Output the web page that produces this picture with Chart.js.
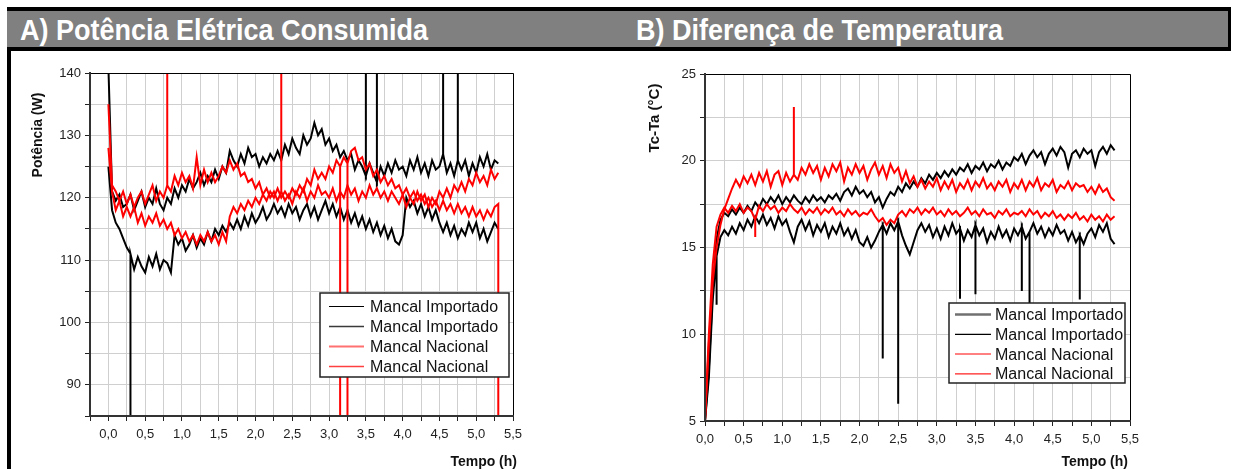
<!DOCTYPE html>
<html>
<head>
<meta charset="utf-8">
<script src="https://cdn.jsdelivr.net/npm/chart.js@4.4.0/dist/chart.umd.min.js"></script>
<style>
  body { margin: 0; width: 1234px; height: 469px; overflow: hidden; position: relative; background: #fff; font-family: "Liberation Sans", Arial, sans-serif; }
  canvas { position: absolute; top: 0; }
  #chartA { left: 0; }
  #chartB { left: 617px; }
  #bordaEsq { position: absolute; left: 7px; top: 7px; width: 4px; height: 462px; background: #000; }
  #cabecalho { position: absolute; left: 7px; top: 7px; width: 1221px; height: 36px; background: #808080;
               border-top: 4px solid #000; border-bottom: 4px solid #000; border-right: 3px solid #000; }
  .titulo { position: absolute; top: 15px; color: #fff; font: bold 30px/30px "Liberation Sans", Arial, sans-serif;
            transform: scaleX(0.9); transform-origin: 0 0; white-space: nowrap; }
</style>
</head>
<body>
<canvas id="chartA" width="617" height="469"></canvas>
<canvas id="chartB" width="617" height="469"></canvas>
<div id="bordaEsq"></div>
<div id="cabecalho"></div>
<div class="titulo" style="left:20px">A) Potência Elétrica Consumida</div>
<div class="titulo" style="left:636px">B) Diferença de Temperatura</div>
<script>
// tempo de ensaio (h)
const tempo = [
  0, 0.05, 0.1, 0.15, 0.2, 0.25, 0.3, 0.35, 0.4, 0.45, 0.5, 0.55, 0.6, 0.65, 0.7, 0.75, 0.8, 0.85, 0.9, 0.95,
  1, 1.05, 1.1, 1.15, 1.2, 1.25, 1.3, 1.35, 1.4, 1.45, 1.5, 1.55, 1.6, 1.65, 1.7, 1.75, 1.8, 1.85, 1.9, 1.95,
  2, 2.05, 2.1, 2.15, 2.2, 2.25, 2.3, 2.35, 2.4, 2.45, 2.5, 2.55, 2.6, 2.65, 2.7, 2.75, 2.8, 2.85, 2.9, 2.95,
  3, 3.05, 3.1, 3.15, 3.2, 3.25, 3.3, 3.35, 3.4, 3.45, 3.5, 3.55, 3.6, 3.65, 3.7, 3.75, 3.8, 3.85, 3.9, 3.95,
  4, 4.05, 4.1, 4.15, 4.2, 4.25, 4.3, 4.35, 4.4, 4.45, 4.5, 4.55, 4.6, 4.65, 4.7, 4.75, 4.8, 4.85, 4.9, 4.95,
  5, 5.05, 5.1, 5.15, 5.2, 5.25, 5.3
];

// A) potencia (W)
const importadoA1 = [
  141, 121, 119.5, 120.5, 118.5, 119, 120.5, 118, 119.5, 121, 118.5, 120, 119, 121.5, 119, 118, 120, 119, 121.5, 120,
  122, 121, 123, 121.5, 122.5, 124, 122, 123.5, 122.5, 124.5, 123, 125, 124, 127.5, 126, 125, 127, 125.5, 128, 126.5,
  127, 125, 126.5, 125.5, 127, 126, 127.5, 126, 128.5, 127, 129.5, 128, 127, 130, 128.5, 129.5, 132, 130, 131, 128.5,
  129.5, 127.5, 128.5, 126.5, 127.5, 126, 127, 124.5, 126, 125, 123.5, 125.5, 124, 122.5, 125, 123.5, 125.5, 124, 126, 124.5,
  125, 123.5, 126, 124.5, 126.5, 124, 125.5, 123.5, 126, 124.5, 125, 127, 124, 125.5, 123.5, 126, 124.5, 126, 123.5, 125.5,
  124, 126.5, 125, 127, 124.5, 126, 125.5
];
const importadoA2 = [
  125, 118, 116, 115, 113.5, 112, 111, 108.5, 110.5, 109, 108, 110.5, 109, 111, 108.5, 110, 109.5, 108, 114, 112.5,
  113.5, 111.5, 112.5, 114, 112, 113.5, 112.5, 114.5, 113, 115, 114, 115.5, 114.5, 116, 115, 116.5, 115, 117, 115.5, 117.5,
  116, 117, 118.5, 116.5, 117.5, 119, 117.5, 118.5, 117, 119, 117.5, 118.5, 116.5, 118, 119, 117, 118.5, 116.5, 118, 119.5,
  117.5, 119, 117, 118.5, 116.5, 118, 116, 117.5, 115.5, 117, 115, 116.5, 114.5, 116, 114, 115.5, 113.5, 115, 113, 112.5,
  114, 120, 118.5, 119.5, 117.5, 119, 117, 118.5, 116.5, 118, 116, 114.5, 116, 114, 115.5, 113.5, 115, 114, 116, 114.5,
  116, 113.5, 115, 113, 114.5, 116, 115
];
const nacionalA1 = [
  135, 122, 121, 119.5, 121, 119, 120.5, 118.5, 120, 121, 119, 120.5, 122, 119.5, 121, 120, 122, 121, 123.5, 122,
  124, 122.5, 123.5, 121.5, 126.5, 122, 124.5, 122.5, 124, 122.5, 123.5, 125, 124, 126, 124.5, 125.5, 123.5, 124, 122.5, 123,
  121.5, 122.5, 120.5, 121.5, 120, 121, 119.5, 121, 119.5, 120.5, 119, 121, 120, 121.5, 119.5, 121, 120, 122, 120.5, 121,
  120, 121.5, 119.5, 121, 120, 122, 120.5, 121.5, 119.5, 121, 120, 122, 120.5, 121.5, 120, 121, 119.5, 121, 120, 119,
  120.5, 118.5, 120, 119, 121, 119.5, 120.5, 118.5, 120, 119, 121, 120, 121.5, 120, 122, 121, 122.5, 121, 123, 122,
  124, 122.5, 123.5, 122, 124.5, 123, 124
];
const nacionalA2 = [
  128, 121, 118, 119.5, 117, 118.5, 117, 118.5, 116, 117.5, 115.5, 117, 116, 117.5, 115.5, 116.5, 115, 116, 114, 115,
  113.5, 114.5, 113, 114, 112.5, 114, 113, 114.5, 113, 114, 112.5, 114.5, 113, 117, 118.5, 117.5, 119, 118, 119.5, 118.5,
  120, 119, 120.5, 119.5, 121, 120, 121.5, 120, 121, 120, 121.5, 120.5, 122, 121, 123, 122, 124.5, 123, 124, 123,
  125, 124, 126, 125, 126.5, 125.5, 127.5, 128, 126, 126.5, 124.5, 125.5, 123.5, 124.5, 122.5, 123.5, 122, 123, 121.5, 122,
  120.5, 121.5, 120, 121, 119.5, 120.5, 119, 120, 118.5, 119.5, 118, 119.5, 118, 119, 117.5, 119, 117.5, 118.5, 117, 118.5,
  117, 118, 116.5, 118, 117, 118.5, 119
];
// picos isolados [tempo, valor]
const picosImportadoA1 = [[3.5, 160], [3.65, 160], [4.55, 160], [4.75, 160]];
const picosImportadoA2 = [[0.3, 60]];
const picosNacionalA1 = [[0.8, 160], [2.35, 160]];
const picosNacionalA2 = [[3.15, 60], [3.25, 60], [5.3, 60]];

// B) Tc-Ta (C)
const importadoB1 = [
  5, 8, 12.5, 15.5, 16.6, 17.0, 16.8, 17.2, 16.9, 17.3, 17.0, 17.4, 17.1, 17.6, 17.3, 17.8, 17.5, 17.9, 17.6, 18.0,
  17.5, 17.9, 17.6, 18.0, 17.7, 17.5, 17.9, 17.6, 18.0, 17.7, 17.9, 17.6, 18.0, 17.8, 18.1, 17.7, 18.2, 18.4, 18.0, 18.5,
  18.1, 18.3, 17.9, 18.2, 17.6, 17.9, 17.3, 17.8, 18.2, 18.0, 18.5, 18.2, 18.7, 18.4, 18.8, 18.5, 19.0, 18.7, 19.2, 18.9,
  19.3, 19.0, 19.4, 19.1, 19.5, 19.2, 19.6, 19.4, 19.8, 19.3, 19.7, 19.5, 19.9, 19.4, 19.8, 19.6, 20.0, 19.5, 19.9, 19.7,
  20.2, 20.0, 20.4, 19.8, 20.3, 20.6, 20.2, 20.5, 19.8, 20.4, 20.7, 20.3, 20.8, 20.5, 19.6, 20.4, 20.6, 20.2, 20.7, 20.4,
  20.6, 19.7, 20.5, 20.8, 20.4, 20.9, 20.6
];
const importadoB2 = [
  5, 7.5, 12, 14.5, 15.6, 16.0, 15.7, 16.2, 15.8, 16.4, 16.0, 16.6, 16.2, 16.8, 16.4, 16.9, 16.3, 16.7, 16.1, 16.8,
  16.3, 16.6, 15.9, 15.3, 16.2, 16.6, 16.0, 16.5, 15.7, 16.3, 15.9, 16.4, 15.6, 16.2, 15.8, 16.4, 15.7, 16.1, 15.5, 16.0,
  15.3, 15.1, 15.6, 15.0, 15.4, 15.9, 16.3, 15.8, 16.4, 16.0, 16.5, 15.7, 15.1, 14.6, 15.3, 16.0, 16.4, 15.9, 16.3, 15.6,
  16.1, 15.5, 16.2, 15.7, 16.4, 15.8, 16.1, 15.4, 16.0, 15.6, 16.3, 15.7, 16.1, 15.3, 15.9, 15.5, 16.2, 15.6, 16.0, 15.4,
  16.1, 15.7, 16.2, 15.5, 15.9, 16.4, 15.8, 16.2, 15.6, 16.1, 15.7, 16.3, 15.8, 16.0, 15.4, 15.9, 15.3, 15.7, 15.2, 15.8,
  16.1, 15.6, 16.3, 15.9, 16.4, 15.5, 15.2
];
const nacionalB1 = [
  5, 9.5, 13, 15, 16.3, 17.2, 17.8, 18.4, 18.9, 18.5, 19.1, 18.7, 19.2, 18.6, 19.3, 18.8, 19.4, 18.5, 19.2, 19.4,
  18.6, 19.3, 18.8, 19.2, 18.9, 19.6, 19.2, 19.8, 19.3, 19.7, 18.9, 19.6, 19.1, 19.8, 19.4, 19.9, 18.8, 19.6, 19.2, 19.8,
  19.3, 19.7, 18.9, 19.5, 19.9, 19.2, 19.7, 19.0, 19.8, 19.3, 19.6, 18.8, 19.4, 18.7, 19.1, 18.5, 18.9, 18.4, 18.8, 18.5,
  19.0, 18.3, 18.8, 18.4, 18.9, 18.2, 18.7, 18.4, 18.9, 18.3, 18.8, 18.5, 19.0, 18.4, 18.7, 18.3, 18.8, 18.5, 18.9, 18.2,
  18.7, 18.4, 18.9, 18.3, 18.8, 18.5, 19.0, 18.3, 18.7, 18.5, 18.9, 18.2, 18.6, 18.4, 18.8, 18.3, 18.7, 18.5, 18.6, 18.2,
  18.5, 18.1, 18.6, 18.2, 18.4, 17.9, 17.7
];
const nacionalB2 = [
  5, 10, 14, 16.2, 16.9, 17.3, 17.0, 17.4, 17.1, 17.5, 17.0, 17.3, 17.1, 16.6, 17.4, 17.1, 17.5, 17.2, 17.4, 17.0,
  17.3, 17.1, 17.5, 17.2, 17.0, 17.3, 16.9, 17.2, 17.0, 17.3, 16.9, 17.2, 17.0, 17.3, 16.9, 17.1, 16.8, 17.2, 16.9, 17.1,
  16.8, 17.0, 16.9, 17.2, 16.8, 16.5, 16.7, 16.3, 16.6, 16.4, 16.9, 17.1, 16.8, 17.2, 17.0, 17.3, 16.9, 17.2, 17.0, 17.3,
  16.9, 17.1, 16.8, 17.2, 16.9, 17.1, 16.8, 17.0, 17.3, 16.9, 17.1, 16.8, 17.2, 16.9, 17.0, 16.7, 17.1, 16.9, 17.2, 16.8,
  17.0, 16.9, 17.1, 16.8, 17.2, 16.9, 17.1, 16.7, 17.0, 16.8, 17.1, 16.7, 16.9, 16.6, 16.9, 16.7, 17.0, 16.6, 16.8, 16.5,
  16.9, 16.6, 16.8, 16.5, 16.9, 16.6, 16.8
];
const picosImportadoB1 = [];
const picosImportadoB2 = [[0.15, 11.7], [2.3, 8.6], [2.5, 6.0], [3.3, 12.05], [3.5, 12.3], [4.1, 12.5], [4.2, 11.8], [4.85, 12.0]];
const picosNacionalB1 = [[1.15, 23.1]];
const picosNacionalB2 = [[0.65, 15.6]];

const rotulos = ['Mancal Importado', 'Mancal Importado', 'Mancal Nacional', 'Mancal Nacional'];

Chart.defaults.font.family = '"Liberation Sans", Arial, sans-serif';
Chart.defaults.color = '#222';

// junta a serie com os picos (linha vertical no instante do pico)
function montarPontos(valores, picos) {
    const pontos = [];
    tempo.forEach((t, i) => {
        pontos.push({ x: t, y: valores[i] });
        picos.filter(p => Math.abs(p[0] - t) < 1e-9).forEach(p => {
            pontos.push({ x: t, y: p[1] });
            pontos.push({ x: t, y: valores[i] });
        });
    });
    return pontos;
}

function virgula(v, casas) {
    return v.toFixed(casas).replace('.', ',');
}

const molduraPlugin = {
    id: 'moldura',
    afterDatasetsDraw(chart, args, opts) {
        const { ctx, chartArea: a } = chart;
        ctx.save();

        // borda de cima e da direita
        ctx.strokeStyle = '#000';
        ctx.lineWidth = 1;
        ctx.beginPath();
        ctx.moveTo(a.left, a.top + 0.5);
        ctx.lineTo(a.right + 0.5, a.top + 0.5);
        ctx.lineTo(a.right + 0.5, a.bottom);
        ctx.stroke();

        // legenda com caixa
        const lg = opts.legenda;
        const bx = a.right - lg.margemDir - lg.largura;
        const by = a.bottom - lg.margemInf - lg.altura;
        ctx.fillStyle = '#fff';
        ctx.fillRect(bx, by, lg.largura, lg.altura);
        ctx.strokeStyle = '#222';
        ctx.lineWidth = 1.5;
        ctx.strokeRect(bx, by, lg.largura, lg.altura);
        ctx.font = '16px "Liberation Sans", Arial, sans-serif';
        ctx.textBaseline = 'middle';
        ctx.textAlign = 'left';
        rotulos.forEach((txt, i) => {
            const y = by + lg.y0 + i * lg.passo;
            ctx.strokeStyle = lg.cores[i];
            ctx.lineWidth = lg.larguras[i];
            ctx.beginPath();
            ctx.moveTo(bx + lg.x0Linha, y);
            ctx.lineTo(bx + lg.x0Linha + lg.compLinha, y);
            ctx.stroke();
            ctx.fillStyle = '#111';
            ctx.fillText(txt, bx + lg.x0Texto, y + 1);
        });

        // titulos dos eixos
        ctx.fillStyle = '#111';
        ctx.font = 'bold ' + opts.fonteY + 'px "Liberation Sans", Arial, sans-serif';
        ctx.save();
        ctx.translate(opts.tituloY[0], opts.tituloY[1]);
        ctx.rotate(-Math.PI / 2);
        ctx.textAlign = 'center';
        ctx.textBaseline = 'middle';
        ctx.fillText(opts.textoY, 0, 0);
        ctx.restore();
        ctx.font = 'bold 14px "Liberation Sans", Arial, sans-serif';
        ctx.textAlign = 'right';
        ctx.textBaseline = 'alphabetic';
        ctx.fillText('Tempo (h)', opts.tituloX[0], opts.tituloX[1]);

        ctx.restore();
    }
};

function criarGrafico(id, cfg) {
    const series = [
        { valores: cfg.nac2, picos: cfg.picosNac2, cor: '#ff0000', rot: rotulos[3] },
        { valores: cfg.nac1, picos: cfg.picosNac1, cor: '#ff0000', rot: rotulos[2] },
        { valores: cfg.imp2, picos: cfg.picosImp2, cor: '#000000', rot: rotulos[1] },
        { valores: cfg.imp1, picos: cfg.picosImp1, cor: '#000000', rot: rotulos[0] }
    ];
    return new Chart(document.getElementById(id), {
        type: 'line',
        data: {
            datasets: series.map(s => ({
                label: s.rot,
                data: montarPontos(s.valores, s.picos),
                borderColor: s.cor,
                borderWidth: 2,
                pointRadius: 0,
                tension: 0,
                fill: false
            }))
        },
        options: {
            responsive: false,
            animation: false,
            events: [],
            layout: { padding: { top: cfg.topo, right: cfg.direita, left: 0, bottom: 0 } },
            plugins: {
                legend: { display: false },
                tooltip: { enabled: false },
                moldura: cfg.moldura
            },
            scales: {
                x: {
                    type: 'linear',
                    min: cfg.xMin,
                    max: 5.5,
                    afterFit: (s) => { s.height = cfg.alturaX; },
                    ticks: {
                        stepSize: 0.25,
                        autoSkip: false,
                        maxRotation: 0,
                        padding: 6,
                        font: { size: 13 },
                        callback: (v) => (v >= 0 && Math.abs(v * 2 - Math.round(v * 2)) < 1e-6) ? virgula(v, 1) : ''
                    },
                    grid: { color: '#cfcfcf', lineWidth: 1, tickLength: 5, tickColor: '#222' },
                    border: { color: '#333', width: 2, z: 1 }
                },
                y: {
                    min: cfg.yMin,
                    max: cfg.yMax,
                    afterFit: (s) => { s.width = cfg.larguraY; },
                    ticks: {
                        stepSize: cfg.yPasso,
                        autoSkip: false,
                        padding: 4,
                        font: { size: 13 },
                        callback: (v) => (v % cfg.yRotulo === 0) ? String(v) : ''
                    },
                    grid: { color: '#cfcfcf', lineWidth: 1, tickLength: 5, tickColor: '#222' },
                    border: { color: '#333', width: 2, z: 1 }
                }
            }
        },
        plugins: [molduraPlugin]
    });
}

criarGrafico('chartA', {
    imp1: importadoA1, imp2: importadoA2, nac1: nacionalA1, nac2: nacionalA2,
    picosImp1: picosImportadoA1, picosImp2: picosImportadoA2, picosNac1: picosNacionalA1, picosNac2: picosNacionalA2,
    xMin: -0.25, yMin: 85, yMax: 140, yPasso: 5, yRotulo: 10,
    topo: 73, direita: 104, alturaX: 53, larguraY: 90,
    moldura: {
        textoY: 'Potência (W)', fonteY: 14, tituloY: [38, 135], tituloX: [517, 466],
        legenda: {
            largura: 189, altura: 84, margemDir: 4, margemInf: 39, x0Linha: 9, compLinha: 35, x0Texto: 50, y0: 13.5, passo: 20,
            cores: ['#000000', '#3a3a3a', '#ff7070', '#ff4040'], larguras: [1.2, 1.6, 2, 1.5]
        }
    }
});

criarGrafico('chartB', {
    imp1: importadoB1, imp2: importadoB2, nac1: nacionalB1, nac2: nacionalB2,
    picosImp1: picosImportadoB1, picosImp2: picosImportadoB2, picosNac1: picosNacionalB1, picosNac2: picosNacionalB2,
    xMin: 0, yMin: 5, yMax: 25, yPasso: 2.5, yRotulo: 5,
    topo: 74, direita: 104, alturaX: 48, larguraY: 88,
    moldura: {
        textoY: 'Tc-Ta (°C)', fonteY: 15, tituloY: [38, 118], tituloX: [511, 466],
        legenda: {
            largura: 176, altura: 80, margemDir: 5, margemInf: 38, x0Linha: 6, compLinha: 36, x0Texto: 46, y0: 11.5, passo: 19.8,
            cores: ['#707070', '#000000', '#ff8080', '#ff2020'], larguras: [2.5, 1.2, 2, 1.2]
        }
    }
});
</script>
</body>
</html>
